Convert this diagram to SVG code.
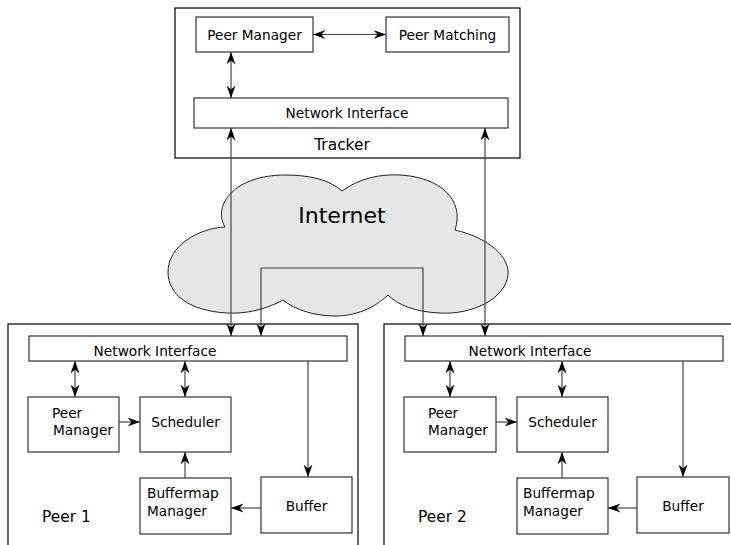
<svg xmlns="http://www.w3.org/2000/svg" width="731" height="545" viewBox="0 0 731 545">
<style>
.box{fill:#fff;stroke:#333;stroke-width:1.2}
.frame{fill:none;stroke:#000;stroke-width:1.2}
.t{font-family:"DejaVu Sans",sans-serif;font-size:13.7px;fill:#000}
.big{font-family:"DejaVu Sans",sans-serif;font-size:15.4px;fill:#000}
.c{fill:none;stroke:#444;stroke-width:1.2}
.a{marker-end:url(#ah)}
.d{marker-start:url(#ah);marker-end:url(#ah)}
</style>
<defs>
<marker id="ah" markerUnits="userSpaceOnUse" markerWidth="14" markerHeight="10" refX="12.5" refY="4.5" orient="auto-start-reverse">
<path d="M0,0 L12.5,4.5 L0,9 L4,4.5 Z" fill="#000"/>
</marker>
</defs>
<rect width="731" height="545" fill="#fff"/>

<g id="cloud">
<path d="M225,227 C212,205 235,175 285,175 C310,175 330,180 342,191 C360,178 380,174 400,175 C440,177 465,200 455,230 C490,238 510,258 508,275 C505,300 470,315 440,313 C415,312 398,305 388,295 C370,312 350,316 335,316 C315,316 295,310 283,300 C265,310 245,314 227,313 C190,311 168,295 168,272 C168,245 200,228 225,227 Z" fill="#e6e6e6" stroke="#222" stroke-width="1"/>
<text x="342" y="223" text-anchor="middle" font-family="'DejaVu Sans',sans-serif" font-size="22px">Internet</text>
</g>

<g id="tracker">
<rect class="frame" x="175" y="8" width="345" height="150"/>
<text class="big" x="342" y="150" text-anchor="middle">Tracker</text>
</g>
<g id="tracker-peer-manager">
<rect class="box" x="196" y="17" width="117" height="35"/>
<text class="t" x="254.5" y="40" text-anchor="middle">Peer Manager</text>
</g>
<g id="tracker-peer-matching">
<rect class="box" x="386" y="17" width="123" height="35"/>
<text class="t" x="447.5" y="40" text-anchor="middle">Peer Matching</text>
</g>
<g id="tracker-network-interface">
<rect class="box" x="194" y="98" width="314" height="30"/>
<text class="t" x="347" y="118" text-anchor="middle">Network Interface</text>
</g>

<g id="peer1">
<rect class="frame" x="8" y="324" width="350" height="240"/>
<text class="big" x="42" y="522">Peer 1</text>
</g>
<g id="peer1-network-interface">
<rect class="box" x="29" y="336" width="318" height="25"/>
<text class="t" x="155" y="356" text-anchor="middle">Network Interface</text>
</g>
<g id="peer1-peer-manager">
<rect class="box" x="28" y="397" width="91" height="55"/>
<text class="t" x="52" y="418">Peer</text>
<text class="t" x="53" y="435">Manager</text>
</g>
<g id="peer1-scheduler">
<rect class="box" x="140" y="397" width="91" height="55"/>
<text class="t" x="185.5" y="427" text-anchor="middle">Scheduler</text>
</g>
<g id="peer1-buffermap-manager">
<rect class="box" x="140" y="478" width="91" height="56"/>
<text class="t" x="147" y="498">Buffermap</text>
<text class="t" x="147" y="516">Manager</text>
</g>
<g id="peer1-buffer">
<rect class="box" x="261" y="477" width="91" height="56"/>
<text class="t" x="306.5" y="511" text-anchor="middle">Buffer</text>
</g>

<g id="peer2">
<rect class="frame" x="384" y="324" width="380" height="240"/>
<text class="big" x="418" y="522">Peer 2</text>
</g>
<g id="peer2-network-interface">
<rect class="box" x="405" y="336" width="318" height="25"/>
<text class="t" x="530" y="356" text-anchor="middle">Network Interface</text>
</g>
<g id="peer2-peer-manager">
<rect class="box" x="404" y="397" width="92" height="55"/>
<text class="t" x="428" y="418">Peer</text>
<text class="t" x="428" y="435">Manager</text>
</g>
<g id="peer2-scheduler">
<rect class="box" x="517" y="397" width="91" height="55"/>
<text class="t" x="562.5" y="427" text-anchor="middle">Scheduler</text>
</g>
<g id="peer2-buffermap-manager">
<rect class="box" x="517" y="478" width="91" height="56"/>
<text class="t" x="523" y="498">Buffermap</text>
<text class="t" x="523" y="516">Manager</text>
</g>
<g id="peer2-buffer">
<rect class="box" x="637" y="477" width="92" height="56"/>
<text class="t" x="683" y="511" text-anchor="middle">Buffer</text>
</g>

<g id="connectors">
<path class="c d" d="M313,34.5 H386"/>
<path class="c d" d="M231,52 V98"/>
<path class="c d" d="M231,128 V336"/>
<path class="c d" d="M485,128 V336"/>
<path class="c d" d="M261,336 V268 H423 V336"/>

<path class="c d" d="M75,361 V397"/>
<path class="c d" d="M185,361 V397"/>
<path class="c a" d="M119,422 H140"/>
<path class="c a" d="M185,478 V452"/>
<path class="c a" d="M308,361 V477"/>
<path class="c a" d="M261,508 H231"/>

<path class="c d" d="M450,361 V397"/>
<path class="c d" d="M562,361 V397"/>
<path class="c a" d="M496,422 H517"/>
<path class="c a" d="M562,478 V452"/>
<path class="c a" d="M683,361 V477"/>
<path class="c a" d="M637,508 H608"/>
</g>
</svg>
